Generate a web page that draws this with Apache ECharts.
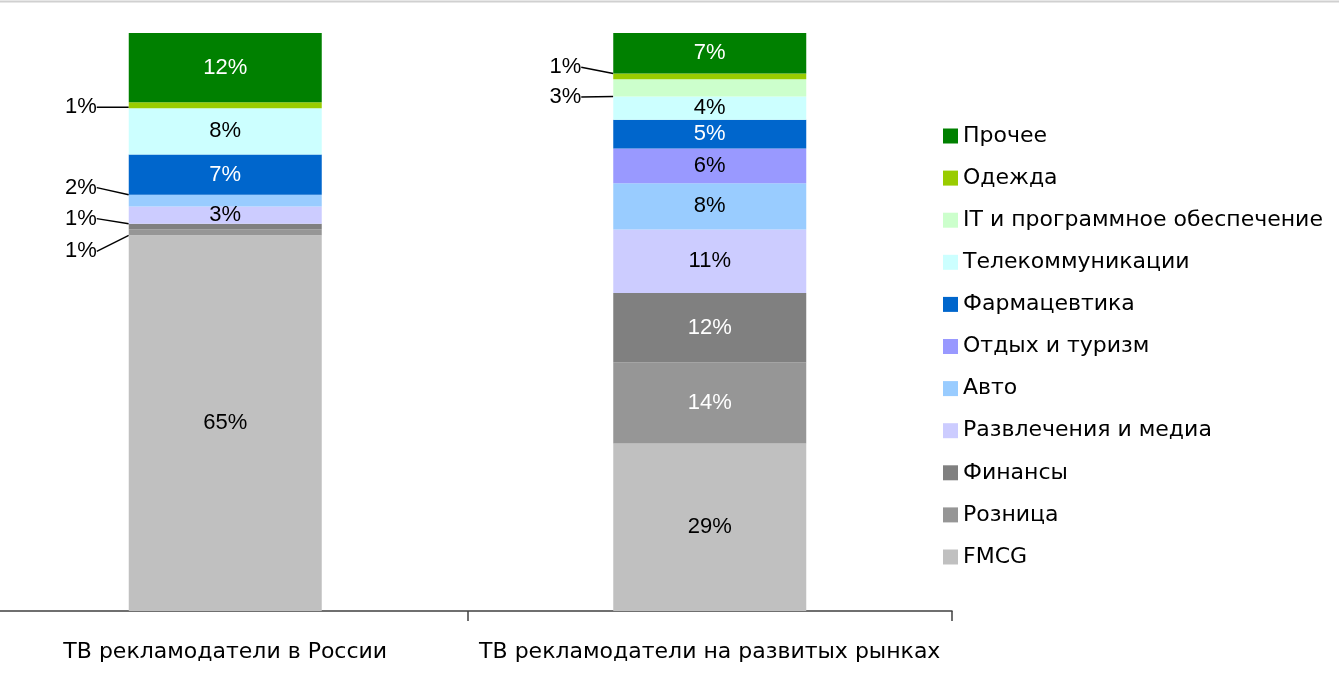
<!DOCTYPE html>
<html>
<head>
<meta charset="utf-8">
<script src="https://cdn.jsdelivr.net/npm/echarts@6/dist/echarts.min.js"></script>
<style>
  html, body { margin: 0; padding: 0; background: #fff; }
  #chart { width: 1339px; height: 688px; }
</style>
</head>
<body>
<div id="chart"></div>
<script>
var categories = ["ТВ рекламодатели в России", "ТВ рекламодатели на развитых рынках"];

// shares, %, bottom of the stack first
var fmcg = [65, 29];
var retail = [1, 14];
var finance = [1, 12];
var media = [3, 11];
var auto = [2, 8];
var travel = [0, 6];
var pharma = [7, 5];
var telecom = [8, 4];
var itSoft = [0, 3];
var clothes = [1, 1];
var other = [12, 7];

var legendOrder = ["Прочее", "Одежда", "IT и программное обеспечение", "Телекоммуникации",
  "Фармацевтика", "Отдых и туризм", "Авто", "Развлечения и медиа", "Финансы", "Розница", "FMCG"];

// name, values, colour, label colour
var stack = [
  ["FMCG", fmcg, "#c0c0c0", "#000"],
  ["Розница", retail, "#969696", "#fff"],
  ["Финансы", finance, "#808080", "#fff"],
  ["Развлечения и медиа", media, "#ccccff", "#000"],
  ["Авто", auto, "#99ccff", "#000"],
  ["Отдых и туризм", travel, "#9999ff", "#000"],
  ["Фармацевтика", pharma, "#0066cc", "#fff"],
  ["Телекоммуникации", telecom, "#ccffff", "#000"],
  ["IT и программное обеспечение", itSoft, "#ccffcc", "#000"],
  ["Одежда", clothes, "#99cc00", "#000"],
  ["Прочее", other, "#008000", "#fff"]
];

// small segments labelled outside the bar: series, category, vertical shift of the label
var callouts = [
  ["Одежда", 0, 2],
  ["Авто", 0, -13],
  ["Финансы", 0, -8],
  ["Розница", 0, 19],
  ["Одежда", 1, -9],
  ["IT и программное обеспечение", 1, 9]
];

function findCallout(name, idx) {
  for (var i = 0; i < callouts.length; i++) {
    if (callouts[i][0] == name && callouts[i][1] == idx) return callouts[i];
  }
  return null;
}

var FONT = "'Liberation Sans', Arial, sans-serif";
var WIDE = "'DejaVu Sans', sans-serif";

var series = stack.map(function (s) {
  var name = s[0];
  return {
    name: name,
    type: "bar",
    stack: "total",
    barWidth: 193,
    itemStyle: { color: s[2] },
    label: {
      show: true,
      position: "inside",
      color: s[3],
      fontSize: 22,
      fontFamily: FONT,
      formatter: function (p) {
        return p.value > 0 ? p.value + "%" : "";
      }
    },
    labelLine: { show: false, lineStyle: { color: "#000", width: 1.5 } },
    labelLayout: function (p) {
      var c = findCallout(name, p.dataIndex);
      if (!c) return {};
      return {
        x: p.rect.x - 32,
        y: p.rect.y + p.rect.height / 2 + c[2],
        align: "right",
        verticalAlign: "middle"
      };
    },
    data: s[1].map(function (v, i) {
      var c = findCallout(name, i);
      if (!c) return v;
      return { value: v, label: { color: "#000" }, labelLine: { show: true } };
    })
  };
});

var myChart = echarts.init(document.getElementById("chart"));
var option = {
  animation: false,
  grid: { left: -17, right: 387, top: 33, bottom: 77, outerBoundsMode: "none", containLabel: false },
  legend: {
    orient: "vertical",
    left: 943,
    top: 125,
    padding: 0,
    data: legendOrder,
    icon: "rect",
    itemWidth: 15,
    itemHeight: 15,
    itemGap: 20.1,
    textStyle: { fontSize: 22, fontFamily: WIDE, color: "#000" }
  },
  xAxis: {
    type: "category",
    data: categories,
    axisLine: { lineStyle: { color: "#404040", width: 1.5 } },
    axisTick: { show: true, length: 10, lineStyle: { color: "#404040", width: 1.5 } },
    axisLabel: { interval: 0, fontSize: 22, fontFamily: WIDE, color: "#000", margin: 30 }
  },
  yAxis: { type: "value", min: 0, max: 100, show: false },
  graphic: [{
    type: "line",
    shape: { x1: 0, y1: 1.5, x2: 1339, y2: 1.5 },
    style: { stroke: "#d0d0d0", lineWidth: 2 }
  }],
  series: series
};
option && myChart.setOption(option);
window.addEventListener("resize", function () {
  myChart.resize();
});
</script>
</body>
</html>
